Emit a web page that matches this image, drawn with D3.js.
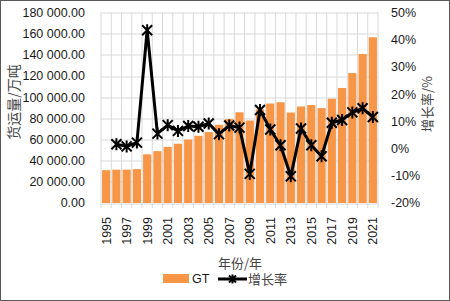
<!DOCTYPE html>
<html>
<head>
<meta charset="utf-8">
<script src="https://cdn.jsdelivr.net/npm/d3@7"></script>
<style>
  body { margin: 0; background: #fff; }
  svg { display: block; font-family: "Liberation Sans", Arial, sans-serif; }
  .tick-label { font-size: 12.5px; fill: #1a1a1a; }
  .cjk { font-family: "Noto Sans CJK SC", sans-serif; fill: #444; }
</style>
</head>
<body>
<div id="chart"></div>
<script>
const years = d3.range(1995, 2022);
const gtValues = [31000, 31500, 31500, 32000, 46000, 49000, 53000, 56000, 60000, 63500,
    67000, 73900, 79300, 85700, 77900, 88500, 94000, 95200, 85500, 91200,
    92500, 89700, 98500, 108700, 122800, 140800, 156600];
const growthValues = [null, 1.6, 0.8, 2.2, 43.5, 5.5, 8.6, 6.5, 8.3, 8.0,
    9.2, 5.3, 8.5, 7.7, -9.3, 14.2, 7.0, 1.2, -10.2, 7.4,
    1.2, -2.8, 9.5, 10.5, 13.3, 14.8, 11.6];
const leftTicks = d3.range(0, 180001, 20000);
const rightTicks = d3.range(-20, 51, 10);
const yearLabels = years.filter((d, i) => i % 2 === 0);

const width = 450, height = 301;
const margin = { top: 12.5, right: 72, bottom: 98, left: 101 };
const plotW = width - margin.left - margin.right;
const plotH = height - margin.top - margin.bottom;

const svg = d3.select("#chart").append("svg")
    .attr("width", width)
    .attr("height", height);

// outer border
svg.append("rect")
    .attr("x", 0.5).attr("y", 0.5)
    .attr("width", width - 1).attr("height", height - 1)
    .attr("fill", "none").attr("stroke", "#595959");

const chart = svg.append("g")
    .attr("transform", `translate(${margin.left},${margin.top})`);

const x = d3.scaleBand().domain(years).range([0, plotW]).paddingInner(0.2).paddingOuter(0.1);
const yLeft = d3.scaleLinear().domain([0, 180000]).range([plotH, 0]);
const yRight = d3.scaleLinear().domain([-20, 50]).range([plotH, 0]);
const bandStart = (i) => i * plotW / years.length;

// gridlines
chart.selectAll(".hgrid").data(leftTicks)
    .join("line")
    .attr("x1", 0).attr("x2", plotW)
    .attr("y1", (d) => Math.round(yLeft(d)) + 0.5)
    .attr("y2", (d) => Math.round(yLeft(d)) + 0.5)
    .attr("stroke", "#d9d9d9");
chart.selectAll(".vgrid").data(d3.range(years.length + 1))
    .join("line")
    .attr("x1", (d) => bandStart(d)).attr("x2", (d) => bandStart(d))
    .attr("y1", 0).attr("y2", plotH + 5)
    .attr("stroke", "#d9d9d9");

// bars
chart.selectAll(".bar").data(years)
    .join("rect")
    .attr("x", (d) => x(d))
    .attr("width", x.bandwidth())
    .attr("y", (d, i) => yLeft(gtValues[i]))
    .attr("height", (d, i) => plotH - yLeft(gtValues[i]))
    .attr("fill", "#f79646");

// growth line
const pts = years.map((d, i) => ({ year: d, v: growthValues[i] })).filter((d) => d.v !== null);
const line = d3.line()
    .x((d) => x(d.year) + x.bandwidth() / 2)
    .y((d) => yRight(d.v));
chart.append("path")
    .datum(pts)
    .attr("d", line)
    .attr("fill", "none")
    .attr("stroke", "#000")
    .attr("stroke-width", 3)
    .attr("stroke-linejoin", "round");

const star = (s) => `M${-s},${-s}L${s},${s}M${-s},${s}L${s},${-s}M0,${-s - 1}L0,${s + 1}`;
chart.selectAll(".marker").data(pts)
    .join("path")
    .attr("transform", (d) => `translate(${x(d.year) + x.bandwidth() / 2},${yRight(d.v)})`)
    .attr("d", star(5))
    .attr("stroke", "#000")
    .attr("stroke-width", 2)
    .attr("fill", "none");

// left axis labels
chart.selectAll(".ly").data(leftTicks)
    .join("text")
    .attr("class", "tick-label")
    .attr("x", -16)
    .attr("y", (d) => yLeft(d))
    .attr("dy", "0.35em")
    .attr("text-anchor", "end")
    .text((d) => d3.format(",.2f")(d).replace(/,/g, " "));

// right axis labels
chart.selectAll(".ry").data(rightTicks)
    .join("text")
    .attr("class", "tick-label")
    .attr("x", plotW + 13)
    .attr("y", (d) => yRight(d))
    .attr("dy", "0.35em")
    .text((d) => `${d}%`);

// x labels
chart.selectAll(".xl").data(yearLabels)
    .join("text")
    .attr("class", "tick-label")
    .attr("transform", (d) => `translate(${x(d) + x.bandwidth() / 2},${plotH + 14}) rotate(-90)`)
    .attr("dy", "0.35em")
    .attr("text-anchor", "end")
    .text((d) => d);

// axis titles
svg.append("text")
    .attr("class", "cjk")
    .attr("transform", `translate(14,102) rotate(-90)`)
    .attr("text-anchor", "middle")
    .attr("dy", "0.35em")
    .style("font-size", "14px")
    .text("货运量/万吨");
svg.append("text")
    .attr("class", "cjk")
    .attr("transform", `translate(427,104) rotate(-90)`)
    .attr("text-anchor", "middle")
    .attr("dy", "0.35em")
    .style("font-size", "13px")
    .text("增长率/%");
svg.append("text")
    .attr("class", "cjk")
    .attr("x", 240).attr("y", 263)
    .attr("dy", "0.35em")
    .attr("text-anchor", "middle")
    .style("font-size", "13px")
    .text("年份/年");

// legend
const legend = svg.append("g").attr("transform", "translate(0,279)");
legend.append("rect")
    .attr("x", 163).attr("y", -5)
    .attr("width", 26).attr("height", 9)
    .attr("fill", "#f79646");
legend.append("text")
    .attr("class", "tick-label")
    .attr("x", 192).attr("dy", "0.35em")
    .text("GT");
legend.append("line")
    .attr("x1", 218).attr("x2", 247)
    .attr("stroke", "#000").attr("stroke-width", 3);
legend.append("path")
    .attr("transform", "translate(232.5,0)")
    .attr("d", star(3.5))
    .attr("stroke", "#000").attr("stroke-width", 2);
legend.append("text")
    .attr("class", "cjk")
    .attr("x", 248).attr("dy", "0.35em")
    .style("font-size", "13px")
    .text("增长率");
</script>
</body>
</html>
